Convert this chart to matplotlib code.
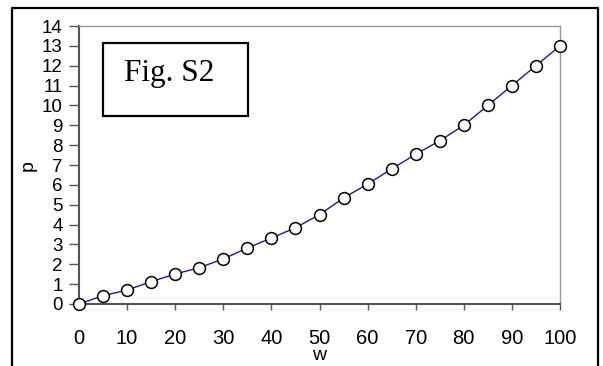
import matplotlib
matplotlib.use("Agg")
from matplotlib import pyplot as plt
from matplotlib.lines import Line2D
from matplotlib.patches import Rectangle

# data
w = [0, 5, 10, 15, 20, 25, 30, 35, 40, 45, 50, 55, 60, 65, 70, 75, 80, 85, 90, 95, 100]
p = [0.0, 0.42, 0.70, 1.13, 1.51, 1.83, 2.27, 2.82, 3.32, 3.84, 4.50, 5.34, 6.04,
     6.80, 7.54, 8.22, 9.0, 10.0, 11.0, 12.0, 13.0]
xticks = list(range(0, 101, 10))
yticks = list(range(0, 15))

plt.rcParams['font.family'] = ['Liberation Sans', 'DejaVu Sans']

fig = plt.figure(figsize=(6.03, 3.66), dpi=100)
W, H = 603, 366
ax = fig.add_axes([79 / W, 1 - 304 / H, 481 / W, 278 / H])

ax.plot(w, p, color='#1a1a9a', lw=1, marker='o', ms=8.5, mfc='white',
        mec='black', mew=1.1, clip_on=False, zorder=3)

ax.set_xlim(0, 100)
ax.set_ylim(0, 14)
ax.set_xticks(xticks)
ax.set_yticks(yticks)
ax.tick_params(axis='x', direction='out', length=4.3, width=1, color='#555555',
               pad=13.8, labelsize=14.5)
ax.tick_params(axis='y', direction='out', length=7.5, width=1, color='#555555',
               pad=4.3, labelsize=13.5)

for s in ['left', 'bottom']:
    ax.spines[s].set_color('#555555')
    ax.spines[s].set_linewidth(1.5)
for s in ['top', 'right']:
    ax.spines[s].set_color('#999999')
    ax.spines[s].set_linewidth(1)

fig.text(28 / W, 1 - 166 / H, 'p', rotation=90, ha='center', va='center', fontsize=14)
fig.text(319 / W, 1 - 355 / H, 'w', ha='center', va='center', fontsize=14)

# "Fig. S2" box
fig.add_artist(Rectangle((103 / W, 1 - 116 / H), 145 / W, 73 / H,
                         transform=fig.transFigure, fill=False, ec='black', lw=1.6))
fig.text(169 / W, 1 - 74 / H, 'Fig. S2', ha='center', va='center',
         fontsize=22.5, family='Liberation Serif')

# outer frame
fig.add_artist(Line2D([12 / W, 12 / W, 598 / W, 598 / W], [0, 1 - 8 / H, 1 - 8 / H, 0],
                      transform=fig.transFigure, color='black', lw=1.6))

plt.savefig('out.png', dpi=100)
